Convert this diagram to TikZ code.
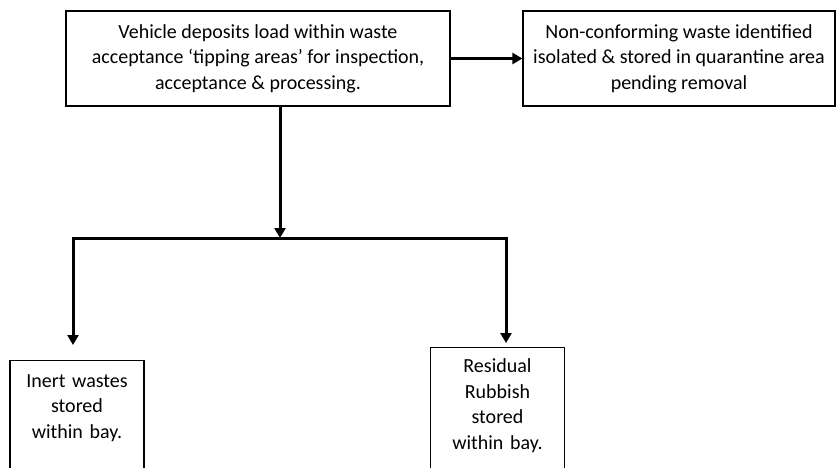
\documentclass[tikz,border=0pt]{standalone}
\usepackage{fontspec}
\setmainfont{Carlito}
\usetikzlibrary{arrows.meta}
\tikzset{
  box/.style={draw, line width=1.3pt, align=center, font=\fontsize{20}{25.5}\selectfont},
  baybox/.style={box, anchor=north, text width=120pt, inner xsep=7pt, text depth=90pt},
  flow/.style={line width=3pt, -{Triangle[length=10pt,width=11pt]}},
  fork/.style={line width=3pt, {Triangle[length=10pt,width=11pt]}-{Triangle[length=10pt,width=11pt]}},
}
\begin{document}
\begin{tikzpicture}[x=1pt,y=-1pt]
  \useasboundingbox (0,0) rectangle (837,467);
  % boxes
  \node[box, minimum width=384pt, minimum height=95pt] (load) at (258,58.5)
    {Vehicle deposits load within waste\\acceptance ‘tipping areas’ for inspection,\\acceptance \& processing.};
  \node[box, minimum width=312pt, minimum height=95pt] (reject) at (679,58.5)
    {Non-conforming waste identified\\isolated \& stored in quarantine area\\pending removal};
  \node[baybox, inner ysep=14pt] (inert) at (77,360)
    {Inert wastes\\stored\\within bay.};
  \node[baybox, inner ysep=11pt] (rubbish) at (497.5,347)
    {Residual\\Rubbish\\stored\\within bay.};
  % split points
  \coordinate (split) at (280,238);
  \coordinate (splitL) at (73,238);
  \coordinate (splitR) at (506,238);
  % arrows
  \draw[flow] (load) -- (reject);
  \draw[flow] (load.south -| split) -- (split);
  \draw[fork, shorten <=15pt, shorten >=4pt] (inert.north -| splitL) -- (splitL) -- (splitR) -- (rubbish.north -| splitR);
\end{tikzpicture}
\end{document}
